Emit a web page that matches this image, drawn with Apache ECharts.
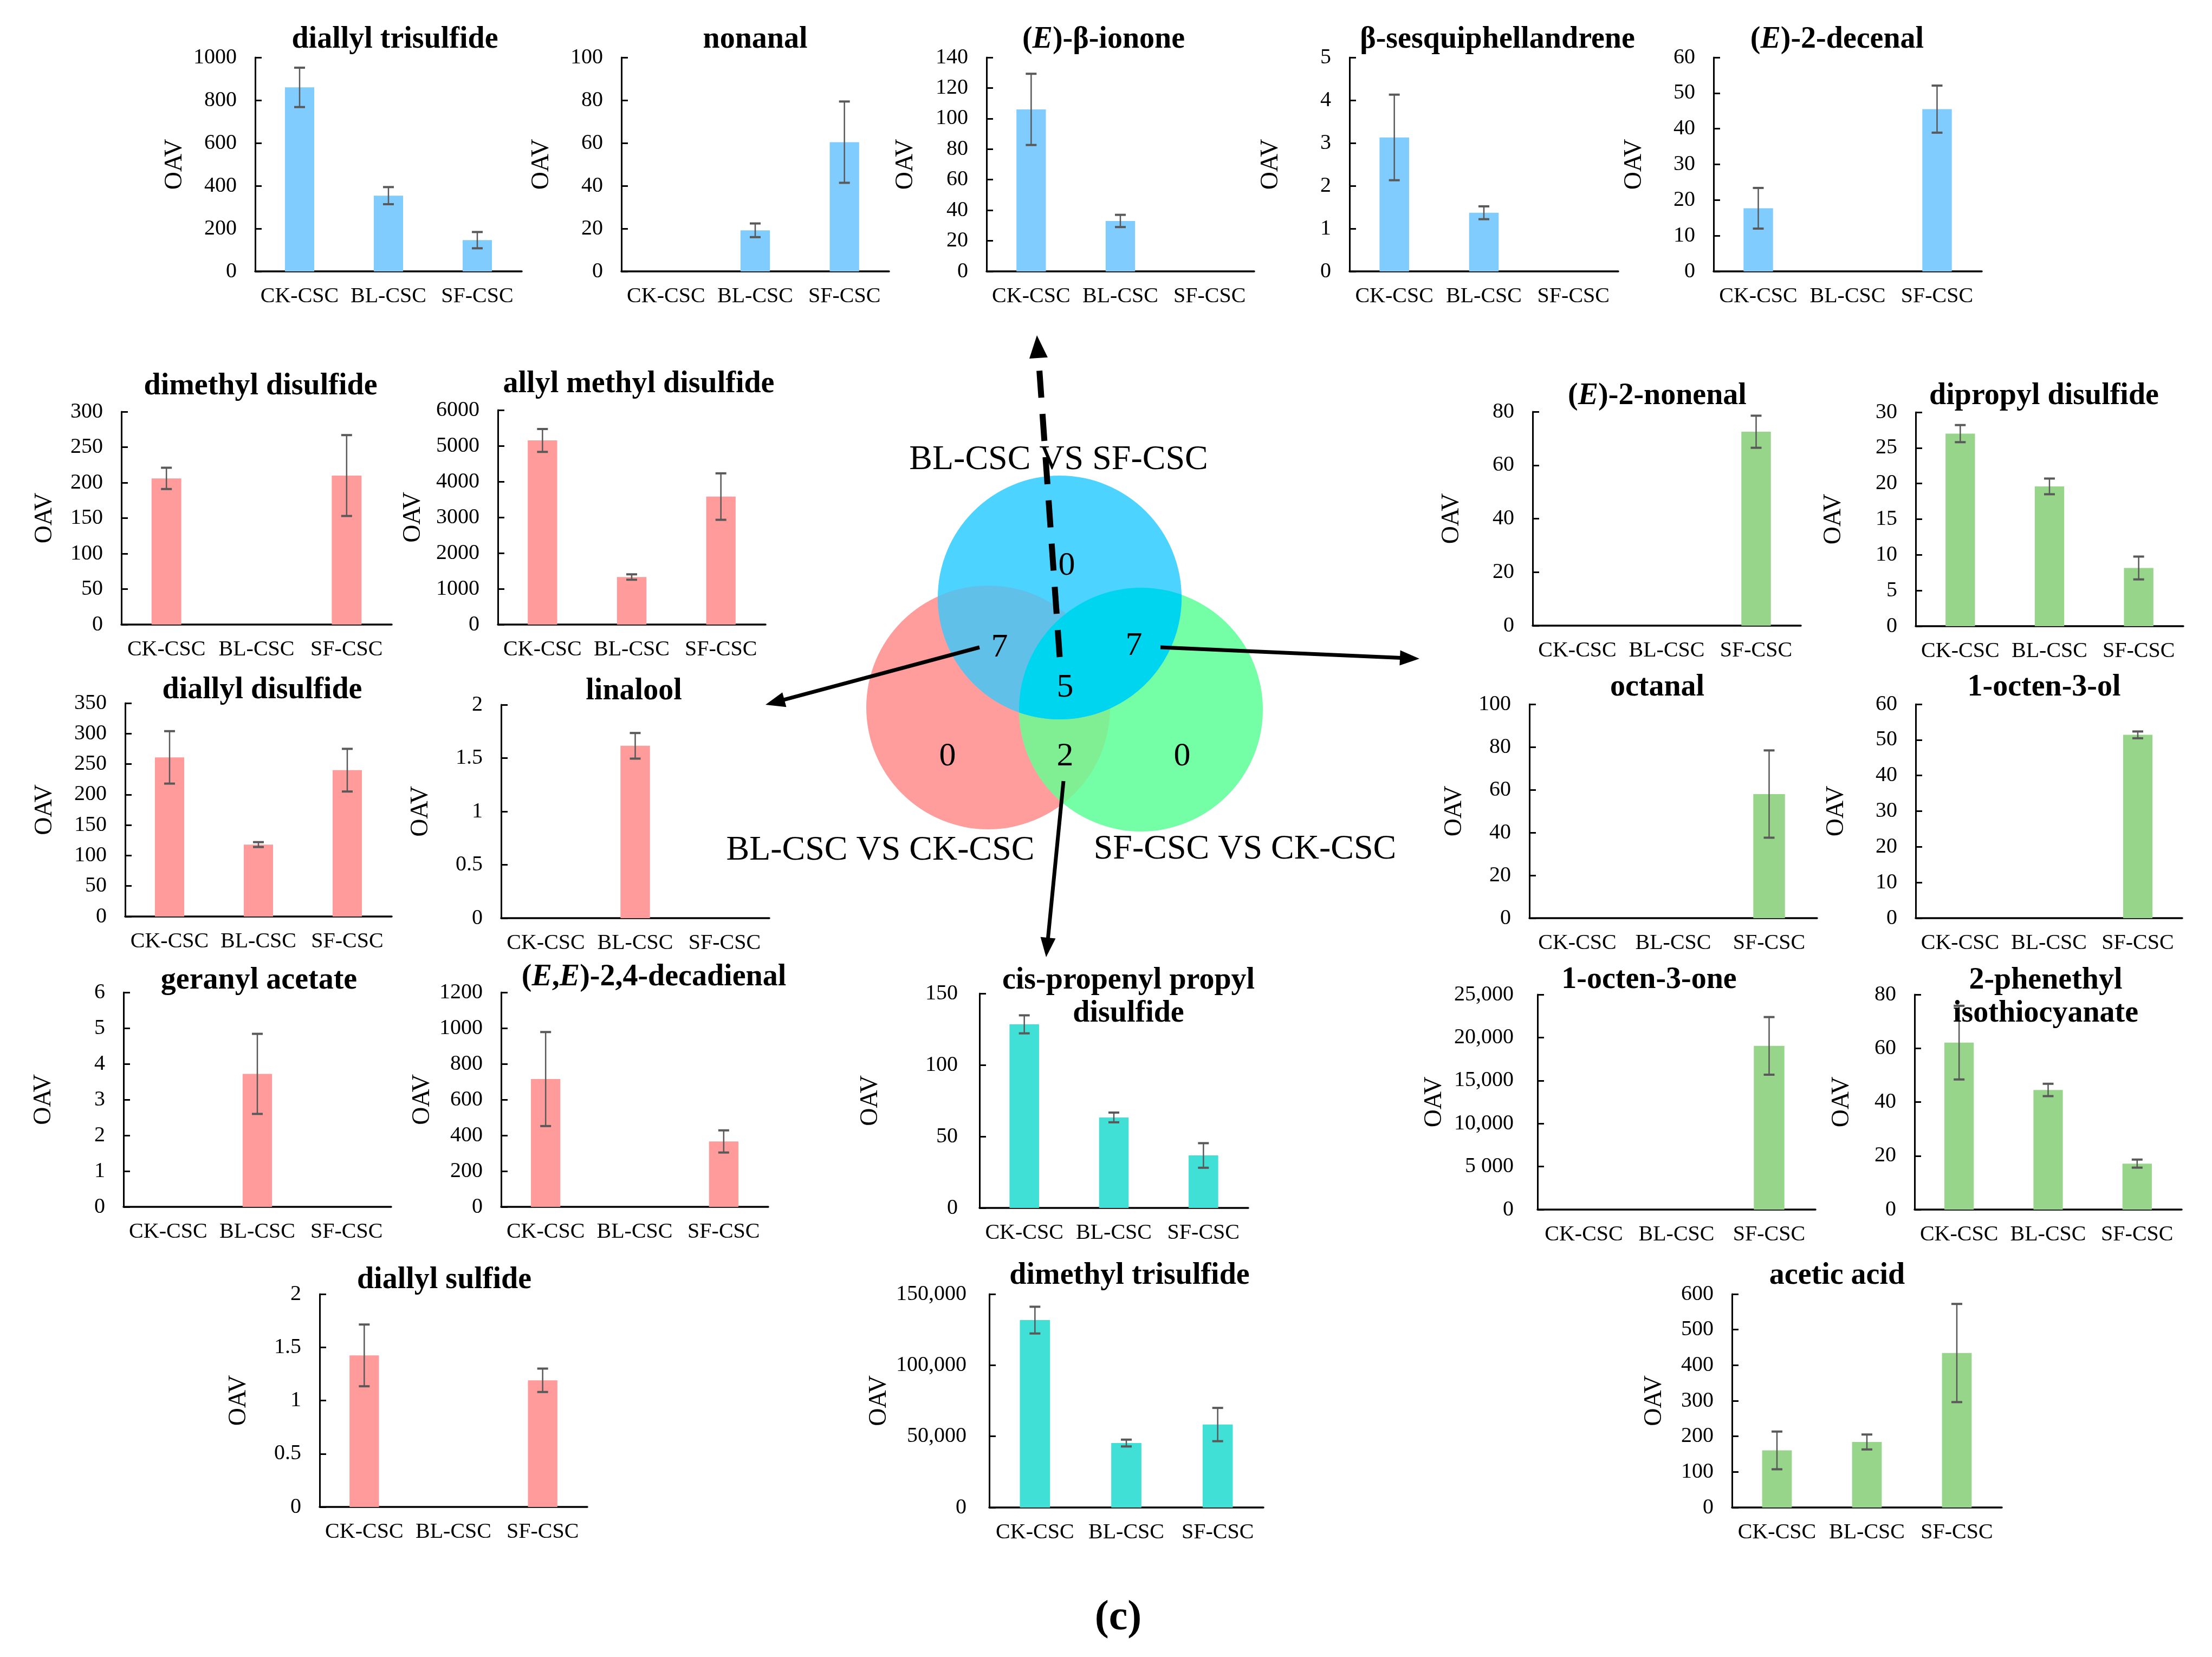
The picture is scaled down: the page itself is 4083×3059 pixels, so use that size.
<!DOCTYPE html>
<html>
<head>
<meta charset="utf-8">
<script src="https://cdn.jsdelivr.net/npm/echarts@6/dist/echarts.min.js"></script>
<style>
html,body{margin:0;padding:0;background:#fff;}
#c{width:4083px;height:3059px;}
</style>
</head>
<body>
<div id="c"></div>
<script>
// ---------- DATA ----------
const categories = ['CK-CSC', 'BL-CSC', 'SF-CSC'];

// OAV means and error bars, order: CK-CSC, BL-CSC, SF-CSC
const diallylTrisulfide = [860, 354, 146];
const diallylTrisulfideSd = [92, 40, 38];
const nonanal = [0, 19.2, 60.4];
const nonanalSd = [0, 3.2, 19];
const eBetaIonone = [106, 33, 0];
const eBetaIononeSd = [23.3, 4.0, 0];
const betaSesquiphellandrene = [3.13, 1.37, 0];
const betaSesquiphellandreneSd = [1.0, 0.15, 0];
const e2Decenal = [17.7, 0, 45.5];
const e2DecenalSd = [5.7, 0, 6.6];
const dimethylDisulfide = [206, 0, 210];
const dimethylDisulfideSd = [15, 0, 57];
const allylMethylDisulfide = [5150, 1330, 3580];
const allylMethylDisulfideSd = [320, 75, 650];
const diallylDisulfide = [261, 118, 240];
const diallylDisulfideSd = [43, 4, 35];
const linalool = [0, 1.615, 0];
const linaloolSd = [0, 0.12, 0];
const geranylAcetate = [0, 3.72, 0];
const geranylAcetateSd = [0, 1.12, 0];
const eeDecadienal = [715, 0, 366];
const eeDecadienalSd = [263, 0, 62];
const diallylSulfide = [1.424, 0, 1.19];
const diallylSulfideSd = [0.29, 0, 0.11];
const cisPropenylPropylDisulfide = [128.4, 63.3, 36.7];
const cisPropenylPropylDisulfideSd = [6.3, 3.4, 8.6];
const dimethylTrisulfide = [131700, 45300, 58300];
const dimethylTrisulfideSd = [9400, 2400, 11700];
const e2Nonenal = [0, 0, 72.5];
const e2NonenalSd = [0, 0, 6.0];
const dipropylDisulfide = [27.0, 19.6, 8.16];
const dipropylDisulfideSd = [1.2, 1.1, 1.6];
const octanal = [0, 0, 58.0];
const octanalSd = [0, 0, 20.4];
const octen3ol = [0, 0, 51.4];
const octen3olSd = [0, 0, 0.95];
const octen3one = [0, 0, 19030];
const octen3oneSd = [0, 0, 3350];
const phenethylIsothiocyanate = [62.1, 44.5, 17.1];
const phenethylIsothiocyanateSd = [13.7, 2.3, 1.5];
const aceticAcid = [160.5, 184.2, 434.3];
const aceticAcidSd = [53, 21, 138];

// special tick labels
const dimethylTrisulfideTicks = ['0', '50,000', '100,000', '150,000'];
const octen3oneTicks = ['0', '5 000', '10,000', '15,000', '20,000', '25,000'];

// Venn diagram
const vennSetLabels = ['BL-CSC VS SF-CSC', 'BL-CSC VS CK-CSC', 'SF-CSC VS CK-CSC'];
const vennCounts = { blueOnly: 0, redOnly: 0, greenOnly: 0, redBlue: 7, blueGreen: 7, redGreen: 2, all: 5 };

// ---------- STYLE / LAYOUT ----------
const FONT = "'Liberation Serif', 'Times New Roman', serif";
const BLUE = '#80CCFF', RED = '#FF9B9B', TEAL = '#40E0D6', GREEN = '#97D58B';
const plain = v => String(v);
const TY = 5; // title vertical nudge

const panels = [
  { name: 'diallyl trisulfide', v: diallylTrisulfide, e: diallylTrisulfideSd, color: BLUE, max: 1000, step: 200, box: [471, 106, 963, 501], tp: [729, 69], gap: 125 },
  { name: 'nonanal', v: nonanal, e: nonanalSd, color: BLUE, max: 100, step: 20, box: [1147, 106, 1641, 501], tp: [1394, 69], gap: 124 },
  { name: '({i|E})-β-ionone', v: eBetaIonone, e: eBetaIononeSd, color: BLUE, max: 140, step: 20, box: [1821, 106, 2315, 501], tp: [2037, 69], gap: 126 },
  { name: 'β-sesquiphellandrene', v: betaSesquiphellandrene, e: betaSesquiphellandreneSd, color: BLUE, max: 5, step: 1, box: [2491, 106, 2987, 501], tp: [2764, 69], gap: 122 },
  { name: '({i|E})-2-decenal', v: e2Decenal, e: e2DecenalSd, color: BLUE, max: 60, step: 10, box: [3163, 106, 3658, 501], tp: [3391, 69], gap: 123 },
  { name: 'dimethyl disulfide', v: dimethylDisulfide, e: dimethylDisulfideSd, color: RED, max: 300, step: 50, box: [224, 760, 723, 1153], tp: [481, 709], gap: 118 },
  { name: 'allyl methyl disulfide', v: allylMethylDisulfide, e: allylMethylDisulfideSd, color: RED, max: 6000, step: 1000, box: [919, 757, 1413, 1153], tp: [1179, 705], gap: 133 },
  { name: 'diallyl disulfide', v: diallylDisulfide, e: diallylDisulfideSd, color: RED, max: 350, step: 50, box: [231, 1298, 723, 1692], tp: [484, 1270], gap: 125 },
  { name: 'linalool', v: linalool, e: linaloolSd, color: RED, max: 2, step: 0.5, box: [925, 1301, 1420, 1695], tp: [1170, 1272], gap: 125 },
  { name: 'geranyl acetate', v: geranylAcetate, e: geranylAcetateSd, color: RED, max: 6, step: 1, box: [228, 1832, 722, 2228], tp: [478, 1806], gap: 124 },
  { name: '({i|E},{i|E})-2,4-decadienal', v: eeDecadienal, e: eeDecadienalSd, color: RED, max: 1200, step: 200, box: [925, 1832, 1418, 2228], tp: [1207, 1800], gap: 122 },
  { name: 'diallyl sulfide', v: diallylSulfide, e: diallylSulfideSd, color: RED, max: 2, step: 0.5, box: [590, 2389, 1084, 2782], tp: [820, 2359], gap: 126 },
  { name: 'cis-propenyl propyl\ndisulfide', v: cisPropenylPropylDisulfide, e: cisPropenylPropylDisulfideSd, color: TEAL, max: 150, step: 50, box: [1808, 1834, 2304, 2230], tp: [2083, 1836], gap: 178, lm: 40 },
  { name: 'dimethyl trisulfide', v: dimethylTrisulfide, e: dimethylTrisulfideSd, color: TEAL, max: 150000, step: 50000, box: [1826, 2389, 2332, 2783], tp: [2085, 2351], gap: 180, ticks: dimethylTrisulfideTicks, lm: 42 },
  { name: '({i|E})-2-nonenal', v: e2Nonenal, e: e2NonenalSd, color: GREEN, max: 80, step: 20, box: [2829, 760, 3324, 1155], tp: [3059, 727], gap: 126 },
  { name: 'dipropyl disulfide', v: dipropylDisulfide, e: dipropylDisulfideSd, color: GREEN, max: 30, step: 5, box: [3536, 761, 4030, 1156], tp: [3773, 727], gap: 128 },
  { name: 'octanal', v: octanal, e: octanalSd, color: GREEN, max: 100, step: 20, box: [2823, 1300, 3354, 1695], tp: [3059, 1265], gap: 115 },
  { name: '1-octen-3-ol', v: octen3ol, e: octen3olSd, color: GREEN, max: 60, step: 10, box: [3536, 1300, 4028, 1695], tp: [3773, 1265], gap: 123 },
  { name: '1-octen-3-one', v: octen3one, e: octen3oneSd, color: GREEN, max: 25000, step: 5000, box: [2838, 1836, 3351, 2233], tp: [3044, 1805], gap: 167, ticks: octen3oneTicks, lm: 44 },
  { name: '2-phenethyl\nisothiocyanate', v: phenethylIsothiocyanate, e: phenethylIsothiocyanateSd, color: GREEN, max: 80, step: 20, box: [3534, 1836, 4027, 2233], tp: [3776, 1836], gap: 111 },
  { name: 'acetic acid', v: aceticAcid, e: aceticAcidSd, color: GREEN, max: 600, step: 100, box: [3197, 2389, 3695, 2783], tp: [3391, 2351], gap: 120 }
];

// ---------- BUILD OPTION ----------
const grids = [], xAxes = [], yAxes = [], series = [], titles = [];

panels.forEach((p, i) => {
  grids.push({ left: p.box[0], top: p.box[1], width: p.box[2] - p.box[0], height: p.box[3] - p.box[1], outerBoundsMode: 'none' });
  xAxes.push({
    type: 'category', gridIndex: i, data: categories,
    axisLine: { lineStyle: { color: '#000', width: 3.5 } },
    axisTick: { inside: true, length: 12, lineStyle: { color: '#000', width: 3 } },
    axisLabel: { interval: 0, margin: 26, color: '#000', fontFamily: FONT, fontSize: 40, lineHeight: 40 }
  });
  const ticks = p.ticks;
  yAxes.push({
    type: 'value', gridIndex: i, min: 0, max: p.max, interval: p.step,
    name: 'OAV', nameLocation: 'middle', nameGap: p.gap,
    nameTextStyle: { color: '#000', fontFamily: FONT, fontSize: 46 },
    axisLine: { show: true, lineStyle: { color: '#000', width: 3 } },
    axisTick: { show: true, inside: true, length: 12, lineStyle: { color: '#000', width: 3 } },
    splitLine: { show: false },
    axisLabel: {
      margin: p.lm || 34, color: '#000', fontFamily: FONT, fontSize: 40,
      formatter: ticks ? ((v, idx) => ticks[idx]) : plain
    }
  });
  series.push({
    type: 'bar', xAxisIndex: i, yAxisIndex: i, data: p.v, barWidth: '33%',
    itemStyle: { color: p.color }, silent: true
  });
  series.push({
    type: 'custom', xAxisIndex: i, yAxisIndex: i, z: 5,
    data: p.v.map((v, j) => [j, v, p.e[j]]),
    encode: { x: 0, y: 1 },
    renderItem: function (params, api) {
      const x = api.value(0), v = api.value(1), s = api.value(2);
      if (!s) return null;
      const hi = api.coord([x, v + s]);
      const lo = api.coord([x, v - s]);
      const cx = hi[0], half = 10;
      return {
        type: 'group', children: [
          { type: 'line', shape: { x1: cx, y1: hi[1], x2: cx, y2: lo[1] }, style: { stroke: '#595959', lineWidth: 2.5 } },
          { type: 'line', shape: { x1: cx - half, y1: hi[1], x2: cx + half, y2: hi[1] }, style: { stroke: '#595959', lineWidth: 4 } },
          { type: 'line', shape: { x1: cx - half, y1: lo[1], x2: cx + half, y2: lo[1] }, style: { stroke: '#595959', lineWidth: 4 } }
        ]
      };
    }
  });
  titles.push({
    text: p.name, left: p.tp[0], top: p.tp[1] + TY, padding: 0,
    textAlign: 'center', textVerticalAlign: 'middle',
    textStyle: {
      color: '#000', fontFamily: FONT, fontSize: 56, fontWeight: 'bold', lineHeight: 61,
      rich: { i: { fontStyle: 'italic', fontWeight: 'bold', fontSize: 56, fontFamily: FONT, color: '#000', lineHeight: 61 } }
    }
  });
});

// ---------- VENN + ARROWS (graphic) ----------
const R = 225;
const cBlue = [1956, 1103], cRed = [1824, 1306], cGreen = [2106, 1310];

function lensPoints(c1, c2, r) {
  const dx = c2[0] - c1[0], dy = c2[1] - c1[1], d = Math.hypot(dx, dy);
  const t12 = Math.atan2(dy, dx), t21 = t12 + Math.PI;
  const a = Math.acos(d / (2 * r));
  const pts = [], n = 80;
  for (let k = 0; k <= n; k++) {
    const t = t12 - a + (2 * a * k) / n;
    pts.push([c1[0] + r * Math.cos(t), c1[1] + r * Math.sin(t)]);
  }
  for (let k = 1; k < n; k++) {
    const t = t21 - a + (2 * a * k) / n;
    pts.push([c2[0] + r * Math.cos(t), c2[1] + r * Math.sin(t)]);
  }
  return pts;
}

function arrow(x1, y1, x2, y2, w, headLen, headHalf, dash) {
  const dx = x2 - x1, dy = y2 - y1, L = Math.hypot(dx, dy);
  const ux = dx / L, uy = dy / L, nx = -uy, ny = ux;
  const bx = x2 - ux * headLen, by = y2 - uy * headLen;
  return [
    { type: 'line', shape: { x1: x1, y1: y1, x2: bx + ux * 2, y2: by + uy * 2 },
      style: { stroke: '#000', lineWidth: w, lineDash: dash || null, lineCap: 'butt' }, z: 100 },
    { type: 'polygon', shape: { points: [[x2, y2], [bx + nx * headHalf, by + ny * headHalf], [bx - nx * headHalf, by - ny * headHalf]] },
      style: { fill: '#000' }, z: 101 }
  ];
}

function txt(s, x, y, size) {
  return {
    type: 'text', x: x, y: y, z: 90,
    style: { text: s, fill: '#000', font: 'normal ' + size + 'px ' + FONT, align: 'center', verticalAlign: 'middle' }
  };
}

const graphic = [
  { type: 'circle', shape: { cx: cRed[0], cy: cRed[1], r: R }, style: { fill: '#FF9D9D' }, z: 10 },
  { type: 'circle', shape: { cx: cGreen[0], cy: cGreen[1], r: R }, style: { fill: '#74FFA6' }, z: 11 },
  { type: 'polygon', shape: { points: lensPoints(cRed, cGreen, R) }, style: { fill: '#80EF94' }, z: 12 },
  { type: 'circle', shape: { cx: cBlue[0], cy: cBlue[1], r: R }, style: { fill: '#4DD3FF' }, z: 13 },
  { type: 'polygon', shape: { points: lensPoints(cRed, cBlue, R) }, style: { fill: '#60C0E8' }, z: 14 },
  { type: 'polygon', shape: { points: lensPoints(cBlue, cGreen, R) }, style: { fill: '#00D5EF' }, z: 15 },
  txt(vennSetLabels[0], 1954, 849, 64),
  txt(vennSetLabels[1], 1625, 1570, 64),
  txt(vennSetLabels[2], 2298, 1568, 64),
  txt(String(vennCounts.blueOnly), 1969, 1045, 62),
  txt(String(vennCounts.redBlue), 1845, 1196, 62),
  txt(String(vennCounts.blueGreen), 2093, 1193, 62),
  txt(String(vennCounts.all), 1966, 1270, 62),
  txt(String(vennCounts.redOnly), 1749, 1397, 62),
  txt(String(vennCounts.redGreen), 1966, 1397, 62),
  txt(String(vennCounts.greenOnly), 2182, 1397, 62),
  { type: 'text', x: 2064, y: 2988, z: 90,
    style: { text: '(c)', fill: '#000', font: 'bold 78px ' + FONT, align: 'center', verticalAlign: 'middle' } }
]
  .concat(arrow(1956, 1213, 1914, 619, 11, 42, 17, [50, 30]))
  .concat(arrow(1808, 1195, 1413, 1301, 7, 36, 14))
  .concat(arrow(2142, 1195, 2620, 1216, 7, 36, 14))
  .concat(arrow(1963, 1442, 1931, 1767, 7, 36, 14));

const option = {
  backgroundColor: '#fff',
  animation: false,
  title: titles,
  grid: grids,
  xAxis: xAxes,
  yAxis: yAxes,
  series: series,
  graphic: graphic
};

const chart = echarts.init(document.getElementById('c'), null, { renderer: 'canvas', width: 4083, height: 3059 });
chart.setOption(option);
</script>
</body>
</html>
